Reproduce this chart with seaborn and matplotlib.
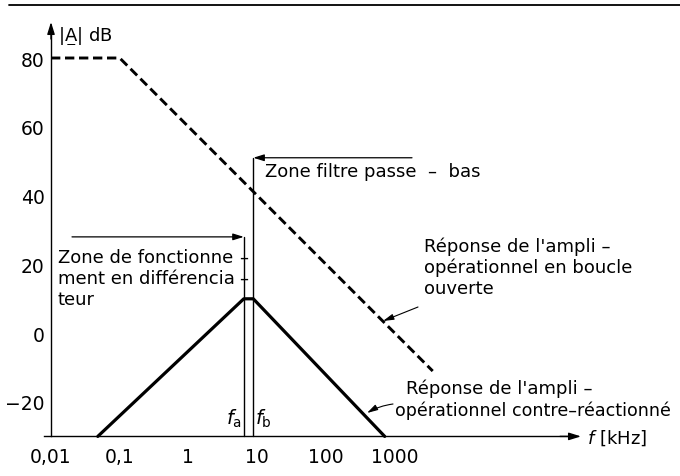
import numpy as np
import matplotlib
matplotlib.use("Agg")
import matplotlib.pyplot as plt
import seaborn as sns
import pandas as pd
from matplotlib.lines import Line2D
from matplotlib.ticker import FixedLocator, FixedFormatter, NullLocator

# ---- data ----
open_f = [0.01, 0.1, 3600]          # kHz
open_db = [80, 80, -11]             # dB, open loop (dashed)
closed_f = [0.048, 6.4, 8.8, 720]   # kHz
closed_db = [-30, 10, 10, -30]      # dB, feedback (solid)
f_a = 6.4
f_b = 8.8
zone_fonct_db = 28
zone_filtre_db = 51
x_ticks = [0.01, 0.1, 1, 10, 100, 1000]
x_tick_labels = ["0,01", "0,1", "1", "10", "100", "1000"]
y_ticks = [80, 60, 40, 20, 0, -20]
y_tick_labels = ["80", "60", "40", "20", "0", "−20"]

sns.set_style("white")
plt.rcParams['font.family'] = ['DejaVu Sans']
plt.rcParams['text.color'] = 'black'
FS = 13

W, H = 680, 477
fig = plt.figure(figsize=(6.8, 4.77), dpi=100)
ax = fig.add_axes([0, 0, 1, 1])
ax.set_xscale('log')
X0, DEC = 51, 68.7
Y0, DBPX = 59, 3.44
def fx(px): return 10 ** (-2 + (px - X0) / DEC)
def fy(py): return 80 - (py - Y0) / DBPX
ax.set_xlim(fx(0), fx(W))
ax.set_ylim(fy(H), fy(0))

# curves
df_open = pd.DataFrame({"f": open_f, "dB": open_db})
df_closed = pd.DataFrame({"f": closed_f, "dB": closed_db})
sns.lineplot(data=df_open, x="f", y="dB", ax=ax, color="black", lw=2.1,
             estimator=None, sort=False)
ax.lines[-1].set_dashes((3.2, 1.6))
ax.lines[-1].set_dash_capstyle("butt")
sns.lineplot(data=df_closed, x="f", y="dB", ax=ax, color="black", lw=2.3,
             estimator=None, sort=False)

# axes spines as arrows
for s in ["top", "right"]:
    ax.spines[s].set_visible(False)
ax.spines["left"].set_position(("data", 0.01))
ax.spines["bottom"].set_position(("data", -30))
ax.spines["left"].set_bounds(-30, fy(30))
ax.spines["bottom"].set_bounds(fx(44), fx(572))
for s in ["left", "bottom"]:
    ax.spines[s].set_linewidth(1.0)
    ax.spines[s].set_color("black")
arr = dict(arrowstyle="-|>,head_length=0.9,head_width=0.28", color="black",
           lw=1.0, shrinkA=0, shrinkB=0, mutation_scale=8)
ax.annotate("", xy=(0.01, fy(23)), xytext=(0.01, fy(40)), arrowprops=arr)
ax.annotate("", xy=(fx(581), -30), xytext=(fx(560), -30), arrowprops=arr)

ax.xaxis.set_major_locator(FixedLocator(x_ticks))
ax.xaxis.set_major_formatter(FixedFormatter(x_tick_labels))
ax.xaxis.set_minor_locator(NullLocator())
ax.yaxis.set_major_locator(FixedLocator(y_ticks))
ax.yaxis.set_major_formatter(FixedFormatter(y_tick_labels))
ax.tick_params(axis="both", which="major", direction="inout", length=5,
               width=1.0, color="black", labelsize=FS + 0.5, labelcolor="black")
ax.tick_params(axis="x", pad=5)
ax.tick_params(axis="y", pad=2)
ax.set_xlabel("")
ax.set_ylabel("")

# axis labels
ax.text(fx(58), fy(35), r"$|\underset{-}{\mathregular{A}}|$ dB", fontsize=FS,
        ha="left", va="center")
ax.text(fx(587), fy(438), r"$f$ [kHz]", fontsize=FS, ha="left", va="center")

# f_a, f_b vertical lines
ax.plot([f_a, f_a], [-30, zone_fonct_db], color="black", lw=1.0)
ax.plot([f_b, f_b], [-30, zone_filtre_db], color="black", lw=1.0)
ax.text(f_a / 1.06, -24.5, r"$f_{\mathregular{a}}$", fontsize=FS + 1, ha="right", va="center")
ax.text(f_b * 1.07, -24.5, r"$f_{\mathregular{b}}$", fontsize=FS + 1, ha="left", va="center")

# zone arrows
zarr = dict(arrowstyle="-|>,head_length=0.8,head_width=0.25", color="black",
            lw=0.9, shrinkA=0, shrinkB=0, mutation_scale=8)
ax.annotate("", xy=(f_a, zone_fonct_db), xytext=(fx(72), zone_fonct_db), arrowprops=zarr)
ax.annotate("", xy=(f_b, zone_filtre_db), xytext=(fx(412), zone_filtre_db), arrowprops=zarr)

ax.text(fx(265), fy(172), "Zone filtre passe  –  bas", fontsize=FS, ha="left", va="center")
ax.text(fx(58), fy(258), "Zone de fonctionne", fontsize=FS, ha="left", va="center")
ax.text(fx(58), fy(279), "ment en différencia", fontsize=FS, ha="left", va="center")
ax.text(fx(58), fy(300), "teur", fontsize=FS, ha="left", va="center")
for py in (258, 279):
    ax.text(f_a, fy(py), "–", fontsize=FS, ha="center", va="center")

# right annotations
ax.text(fx(424), fy(247), "Réponse de l'ampli –", fontsize=FS, ha="left", va="center")
ax.text(fx(424), fy(268), "opérationnel en boucle", fontsize=FS, ha="left", va="center")
ax.text(fx(424), fy(289), "ouverte", fontsize=FS, ha="left", va="center")
ax.annotate("", xy=(fx(383), fy(322)), xytext=(fx(418), fy(308)),
            arrowprops=dict(arrowstyle="-|>,head_length=0.8,head_width=0.22",
                            color="black", lw=0.8, shrinkA=0, shrinkB=0,
                            mutation_scale=8))

ax.text(fx(406), fy(389), "Réponse de l'ampli –", fontsize=FS, ha="left", va="center")
ax.text(fx(395), fy(411), "opérationnel contre–réactionné", fontsize=FS - 0.4,
        ha="left", va="center")
ax.annotate("", xy=(fx(367), fy(414)), xytext=(fx(393), fy(405)),
            arrowprops=dict(arrowstyle="-|>,head_length=0.8,head_width=0.22",
                            color="black", lw=0.8, shrinkA=0, shrinkB=0,
                            mutation_scale=8,
                            connectionstyle="arc3,rad=0.1"))

# top rule
fig.add_artist(Line2D([9 / W, 1.0], [1 - 6 / H, 1 - 6 / H], color="black", lw=1.3,
                      transform=fig.transFigure))

fig.savefig("out.png", dpi=100)
